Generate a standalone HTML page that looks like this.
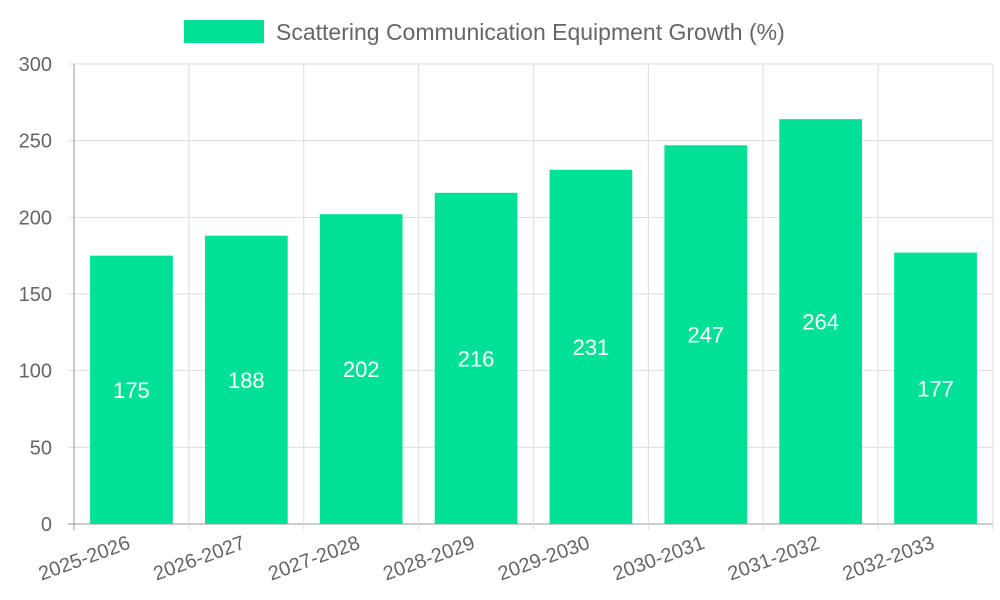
<!DOCTYPE html>
<html><head><meta charset="utf-8"><style>
body{margin:0;background:#fff;}
svg{display:block;font-family:"Liberation Sans",sans-serif;}
</style></head><body>
<svg id="chart" width="1000" height="600">
<g>
<rect x="184" y="20" width="80" height="23" fill="#00e096"/>
<text x="276" y="40" font-size="23" fill="#666">Scattering Communication Equipment Growth (%)</text>
</g>
<g id="grid"></g><g id="bars"></g><g id="axes"></g>
</svg>
<script>
const categories=["2025-2026","2026-2027","2027-2028","2028-2029","2029-2030","2030-2031","2031-2032","2032-2033"];
const values=[175,188,202,216,231,247,264,177];
const yTicks=[0,50,100,150,200,250,300];
const L=74,R=993,T=64,B=524,yMax=300;
const ns="http://www.w3.org/2000/svg";
const cw=(R-L)/categories.length;
const y=v=>B-(v/yMax)*(B-T);
const x=i=>L+i*cw;
function mk(tag,attrs,parent,txt){const e=document.createElementNS(ns,tag);for(const k in attrs)e.setAttribute(k,attrs[k]);if(txt!==undefined)e.textContent=txt;document.getElementById(parent).appendChild(e);return e;}
yTicks.forEach(t=>{
 let g=mk('line',{x1:L-6,x2:R,y1:y(t),y2:y(t),stroke:t===0?'#999':'#ddd','stroke-width':1},'grid');
 
 
 let l=mk('text',{x:L-22,y:y(t)+7,'font-size':20,fill:'#666','text-anchor':'end'},'axes',t);
 
 
});
for(let i=0;i<=categories.length;i++){
 let g=mk('line',{x1:x(i),x2:x(i),y1:T,y2:B+6,stroke:i===0?'#999':'#ddd','stroke-width':1},'grid');
 
 
}
categories.forEach((c,i)=>{
 const bw=cw*0.72, bx=x(i)+(cw-bw)/2, v=values[i];
 let r=mk('rect',{x:bx,y:y(v),width:bw,height:B-y(v),fill:'#00e096'},'bars');
 
 
 let t=mk('text',{x:bx+bw/2,y:(y(v)+B)/2+8,'font-size':22,fill:'#fff','text-anchor':'middle'},'bars',v);
 
 
 const cx=x(i)+cw/2;
 let xl=mk('text',{x:cx,y:B+24,'font-size':20,fill:'#666','text-anchor':'end',transform:`rotate(-20 ${cx} ${B+24})`},'axes',c);
 
 
});
</script>
</body></html>
